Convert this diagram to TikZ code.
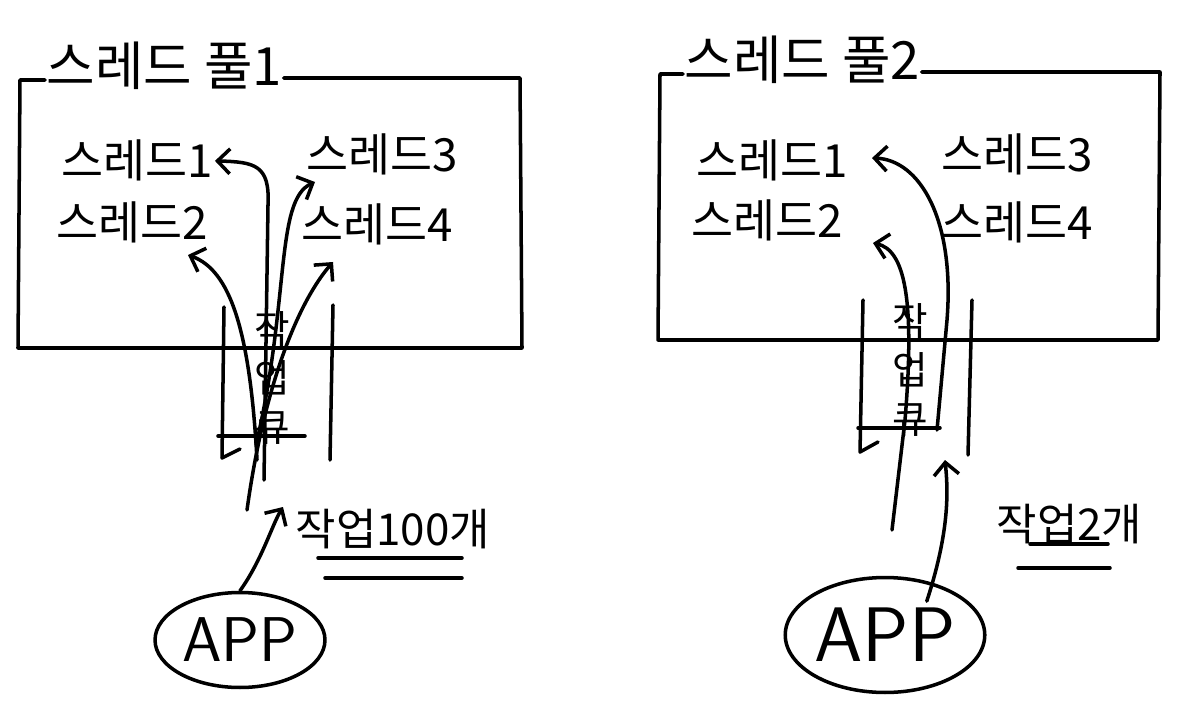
\documentclass[tikz,border=0pt]{standalone}
\usepackage{fontspec}
\newfontfamily\kr{Noto Sans CJK KR}
\usetikzlibrary{arrows.meta,shapes.geometric}
\begin{document}
\begin{tikzpicture}[x=0.02cm,y=-0.02cm, line width=2pt, line cap=round, line join=round,
 lbl/.style={font=\kr\fontsize{26}{30}\selectfont, inner sep=0pt, anchor=base west},
 ttl/.style={font=\kr\fontsize{30}{34}\selectfont, inner sep=0pt, anchor=base west},
 wrk/.style={font=\kr\fontsize{25}{30}\selectfont, inner sep=0pt, anchor=base west},
 que/.style={font=\kr\fontsize{22}{28}\selectfont, inner sep=0pt, align=center},
 arr/.style={-{Straight Barb[length=2.5mm,width=5mm]}},
 app/.style={draw, ellipse, inner sep=0pt, font=\sffamily\fontsize{36}{40}\selectfont}]
\useasboundingbox (0,0) rectangle (1192,722);

% ---------- left: thread pool 1 ----------
\node[ttl] (p1) at (45,86) {스레드 풀1};
\draw (p1.east |- 0,78) -- (520,78) -- (522,348) -- (18,348) -- (20,80) -- (p1.west |- 0,80);
\node[lbl] (l1) at (60,178) {스레드1};
\node[lbl] (l3) at (305,172) {스레드3};
\node[lbl] (l2) at (55,240) {스레드2};
\node[lbl] (l4) at (300,242) {스레드4};

% queue
\node[que] (q1) at (272,378) {작\\업\\큐};
\draw (224,307) -- (222,458) -- (240,449);
\draw (218,436) -- (305,436);
\draw (333,305) -- (330,460);

% work label
\node[wrk] (w1) at (294,545) {작업100개};
\draw (318,558) -- (462,558);
\draw (325,578) -- (462,578);

% app
\node[app, minimum width=3.4cm, minimum height=1.9cm] (a1) at (240,640) {APP};

\coordinate (c1) at (264,480);
\coordinate (c3) at (256,445);
\coordinate (c2) at (257,460);
\coordinate (c4) at (247,510);
\coordinate (tip3) at (315,182);
\coordinate (tip2) at (188,255);
\coordinate (tip4) at (333,262);
\coordinate (tipw1) at (283,507);

\draw[arr] (c1) -- (268,205) .. controls (270,165) and (255,162) .. (l1.east);
\draw[arr] (c3) .. controls (290,300) and (275,200) .. (tip3);
\draw[arr] (c2) .. controls (250,330) and (230,270) .. (tip2);
\draw[arr] (c4) .. controls (265,380) and (300,300) .. (tip4);
\draw[arr] (a1.north) .. controls (262,560) and (272,525) .. (tipw1);

% ---------- right: thread pool 2 ----------
\node[ttl] (p2) at (683,80) {스레드 풀2};
\draw (p2.east |- 0,72) -- (1160,72) -- (1158,340) -- (658,340) -- (660,74) -- (p2.west |- 0,74);
\node[lbl] (r1) at (695,178) {스레드1};
\node[lbl] (r3) at (940,172) {스레드3};
\node[lbl] (r2) at (690,238) {스레드2};
\node[lbl] (r4) at (940,240) {스레드4};

% queue
\node[que] (q2) at (910,370) {작\\업\\큐};
\draw (863,300) -- (860,452) -- (878,442);
\draw (858,428) -- (940,428);
\draw (972,300) -- (968,455);

% work label
\node[wrk] (w2) at (995,540) {작업2개};
\draw (1030,544) -- (1108,544);
\draw (1018,568) -- (1110,568);

% app
\node[app, minimum width=3.4cm, minimum height=2.3cm, font=\sffamily\fontsize{44}{48}\selectfont] (a2) at (885,635) {APP};

\coordinate (d2) at (892,530);
\coordinate (d1) at (937,430);
\coordinate (tipr2) at (873,243);
\coordinate (tipr1) at (872,158);
\coordinate (tipq2) at (945,460);

\draw[arr] (d2) -- (905,420) .. controls (915,300) and (905,250) .. (tipr2);
\draw[arr] (d1) -- (947,320) .. controls (955,220) and (920,160) .. (tipr1);
\draw[arr] (a2.north east) ++(-30,8) .. controls (950,530) and (948,490) .. (tipq2);
\end{tikzpicture}
\end{document}
